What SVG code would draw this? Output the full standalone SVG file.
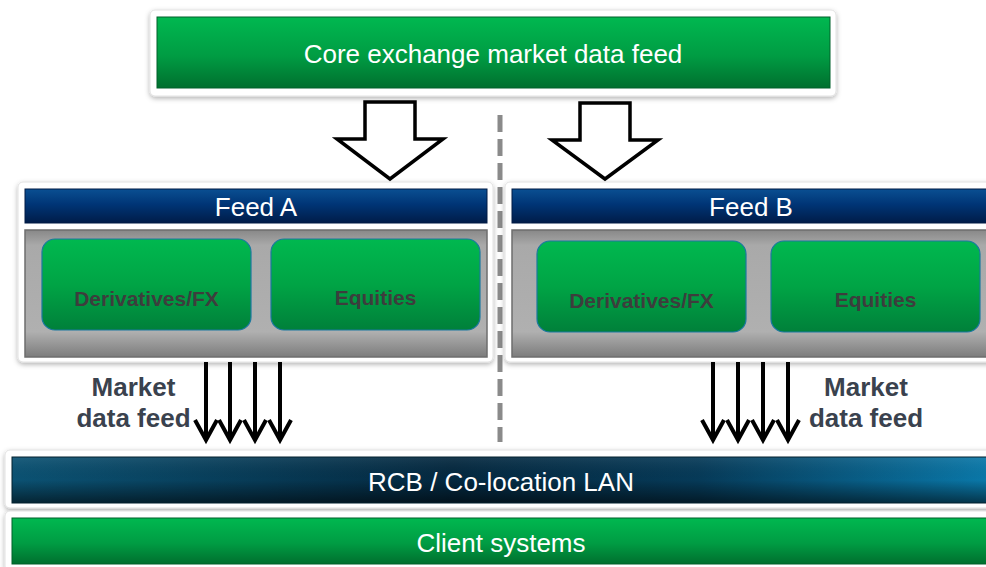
<svg xmlns="http://www.w3.org/2000/svg" width="986" height="567" viewBox="0 0 986 567">
  <style>
    .frame { fill: #ffffff; stroke: #e2e2e2; stroke-width: 1; filter: url(#shadow); }
    .lbl { font-family: "Liberation Sans", Arial, sans-serif; font-size: 26px; fill: #ffffff; text-anchor: middle; }
    .sub { fill: url(#gSub); stroke: #1b78a0; stroke-width: 1.2; }
    .sublbl { font-family: "Liberation Sans", Arial, sans-serif; font-size: 21px; font-weight: bold; fill: #3d3d3d; text-anchor: middle; }
    .mdf { font-family: "Liberation Sans", Arial, sans-serif; font-size: 26px; font-weight: bold; fill: #3a424e; text-anchor: middle; }
    .block { fill: #ffffff; stroke: #000000; stroke-width: 3.5; stroke-linejoin: miter; }
    .thin { stroke: #000000; stroke-width: 4; fill: none; marker-end: url(#vhead); }
    .body { fill: url(#gGray); stroke: #6e6e6e; stroke-width: 1.5; }
  </style>
  <defs>
    <filter id="shadow" x="-5%" y="-20%" width="110%" height="150%">
      <feDropShadow dx="0" dy="2" stdDeviation="2.5" flood-color="#000000" flood-opacity="0.3"/>
    </filter>
    <linearGradient id="gGreen" x1="0" y1="0" x2="0" y2="1">
      <stop offset="0" stop-color="#00b850"/>
      <stop offset="0.55" stop-color="#009c43"/>
      <stop offset="1" stop-color="#006f2e"/>
    </linearGradient>
    <linearGradient id="gSub" x1="0" y1="0" x2="0" y2="1">
      <stop offset="0" stop-color="#00b84f"/>
      <stop offset="0.5" stop-color="#00a445"/>
      <stop offset="1" stop-color="#00803a"/>
    </linearGradient>
    <linearGradient id="gBlue" x1="0" y1="0" x2="0" y2="1">
      <stop offset="0" stop-color="#0a4f92"/>
      <stop offset="0.45" stop-color="#003576"/>
      <stop offset="1" stop-color="#001c48"/>
    </linearGradient>
    <linearGradient id="gRCB" x1="0" y1="0" x2="1" y2="0">
      <stop offset="0" stop-color="#0b5273"/>
      <stop offset="0.45" stop-color="#04283f"/>
      <stop offset="0.7" stop-color="#063a58"/>
      <stop offset="1" stop-color="#0a79aa"/>
    </linearGradient>
    <linearGradient id="gShade" x1="0" y1="0" x2="0" y2="1">
      <stop offset="0" stop-color="#ffffff" stop-opacity="0.08"/>
      <stop offset="0.5" stop-color="#000000" stop-opacity="0"/>
      <stop offset="1" stop-color="#000000" stop-opacity="0.55"/>
    </linearGradient>
    <linearGradient id="gGray" x1="0" y1="0" x2="0" y2="1">
      <stop offset="0" stop-color="#888888"/>
      <stop offset="0.12" stop-color="#a9a9a9"/>
      <stop offset="0.8" stop-color="#b0b0b0"/>
      <stop offset="1" stop-color="#7c7c7c"/>
    </linearGradient>
    <marker id="vhead" markerUnits="userSpaceOnUse" markerWidth="30" markerHeight="30" refX="0" refY="0" orient="auto" overflow="visible">
      <path d="M -20 -11 L 0 0 L -20 11" fill="none" stroke="#000000" stroke-width="4" stroke-linejoin="miter"/>
    </marker>
  </defs>

  <!-- divider -->
  <g id="divider">
    <line x1="500" y1="115" x2="500" y2="442" stroke="#8a8a8a" stroke-width="5" stroke-dasharray="17 7"/>
  </g>

  <g id="node-core">
    <rect class="frame" x="150" y="10" width="686" height="86" rx="5"/>
    <rect x="157" y="17" width="673" height="71" fill="url(#gGreen)" stroke="#00602a" stroke-width="1"/>
    <text class="lbl" x="493" y="63">Core exchange market data feed</text>
  </g>

  <g id="node-feedA">
    <rect class="frame" x="18" y="182" width="475" height="180" rx="5"/>
    <rect x="25" y="189" width="462" height="34" fill="url(#gBlue)" stroke="#001a44" stroke-width="1"/>
    <text class="lbl" x="256" y="216">Feed A</text>
    <rect class="body" x="25" y="230" width="462" height="127"/>
  </g>
  <g id="node-feedA-deriv">
    <rect class="sub" x="42" y="239" width="209" height="91" rx="13"/>
    <text class="sublbl" x="146.5" y="306">Derivatives/FX</text>
  </g>
  <g id="node-feedA-equities">
    <rect class="sub" x="271" y="239" width="209" height="91" rx="13"/>
    <text class="sublbl" x="375.5" y="305">Equities</text>
  </g>

  <g id="node-feedB">
    <rect class="frame" x="505" y="182" width="495" height="180" rx="5"/>
    <rect x="512" y="189" width="480" height="34" fill="url(#gBlue)" stroke="#001a44" stroke-width="1"/>
    <text class="lbl" x="751" y="216">Feed B</text>
    <rect class="body" x="512" y="230" width="480" height="127"/>
  </g>
  <g id="node-feedB-deriv">
    <rect class="sub" x="537" y="241" width="209" height="91" rx="13"/>
    <text class="sublbl" x="641.5" y="308">Derivatives/FX</text>
  </g>
  <g id="node-feedB-equities">
    <rect class="sub" x="771" y="241" width="209" height="91" rx="13"/>
    <text class="sublbl" x="875.5" y="307">Equities</text>
  </g>

  <g id="node-rcb">
    <rect class="frame" x="5" y="450" width="995" height="58" rx="5"/>
    <rect x="12" y="457" width="980" height="46" fill="url(#gRCB)"/>
    <rect x="12" y="457" width="980" height="46" fill="url(#gShade)" stroke="#02202f" stroke-width="1"/>
    <text class="lbl" x="501" y="491">RCB / Co-location LAN</text>
  </g>

  <g id="node-client">
    <rect class="frame" x="5" y="511" width="995" height="60" rx="5"/>
    <rect x="12" y="518" width="980" height="46" fill="url(#gGreen)" stroke="#00602a" stroke-width="1"/>
    <text class="lbl" x="501" y="552">Client systems</text>
  </g>

  <g id="connectors">
    <polygon class="block" points="365,102 415,102 415,139 443,139 390,179 337,139 365,139"/>
    <polygon class="block" points="580,103 630,103 630,140 658,140 605,179 552,140 580,140"/>
    <line class="thin" x1="206" y1="362" x2="206" y2="440"/>
    <line class="thin" x1="230" y1="362" x2="230" y2="440"/>
    <line class="thin" x1="255" y1="362" x2="255" y2="440"/>
    <line class="thin" x1="280" y1="362" x2="280" y2="440"/>
    <line class="thin" x1="713" y1="362" x2="713" y2="440"/>
    <line class="thin" x1="738" y1="362" x2="738" y2="440"/>
    <line class="thin" x1="763" y1="362" x2="763" y2="440"/>
    <line class="thin" x1="788" y1="362" x2="788" y2="440"/>
  </g>

  <g id="labels">
    <text class="mdf" x="133.5" y="396">Market</text>
    <text class="mdf" x="133.5" y="427">data feed</text>
    <text class="mdf" x="866" y="396">Market</text>
    <text class="mdf" x="866" y="427">data feed</text>
  </g>
</svg>
